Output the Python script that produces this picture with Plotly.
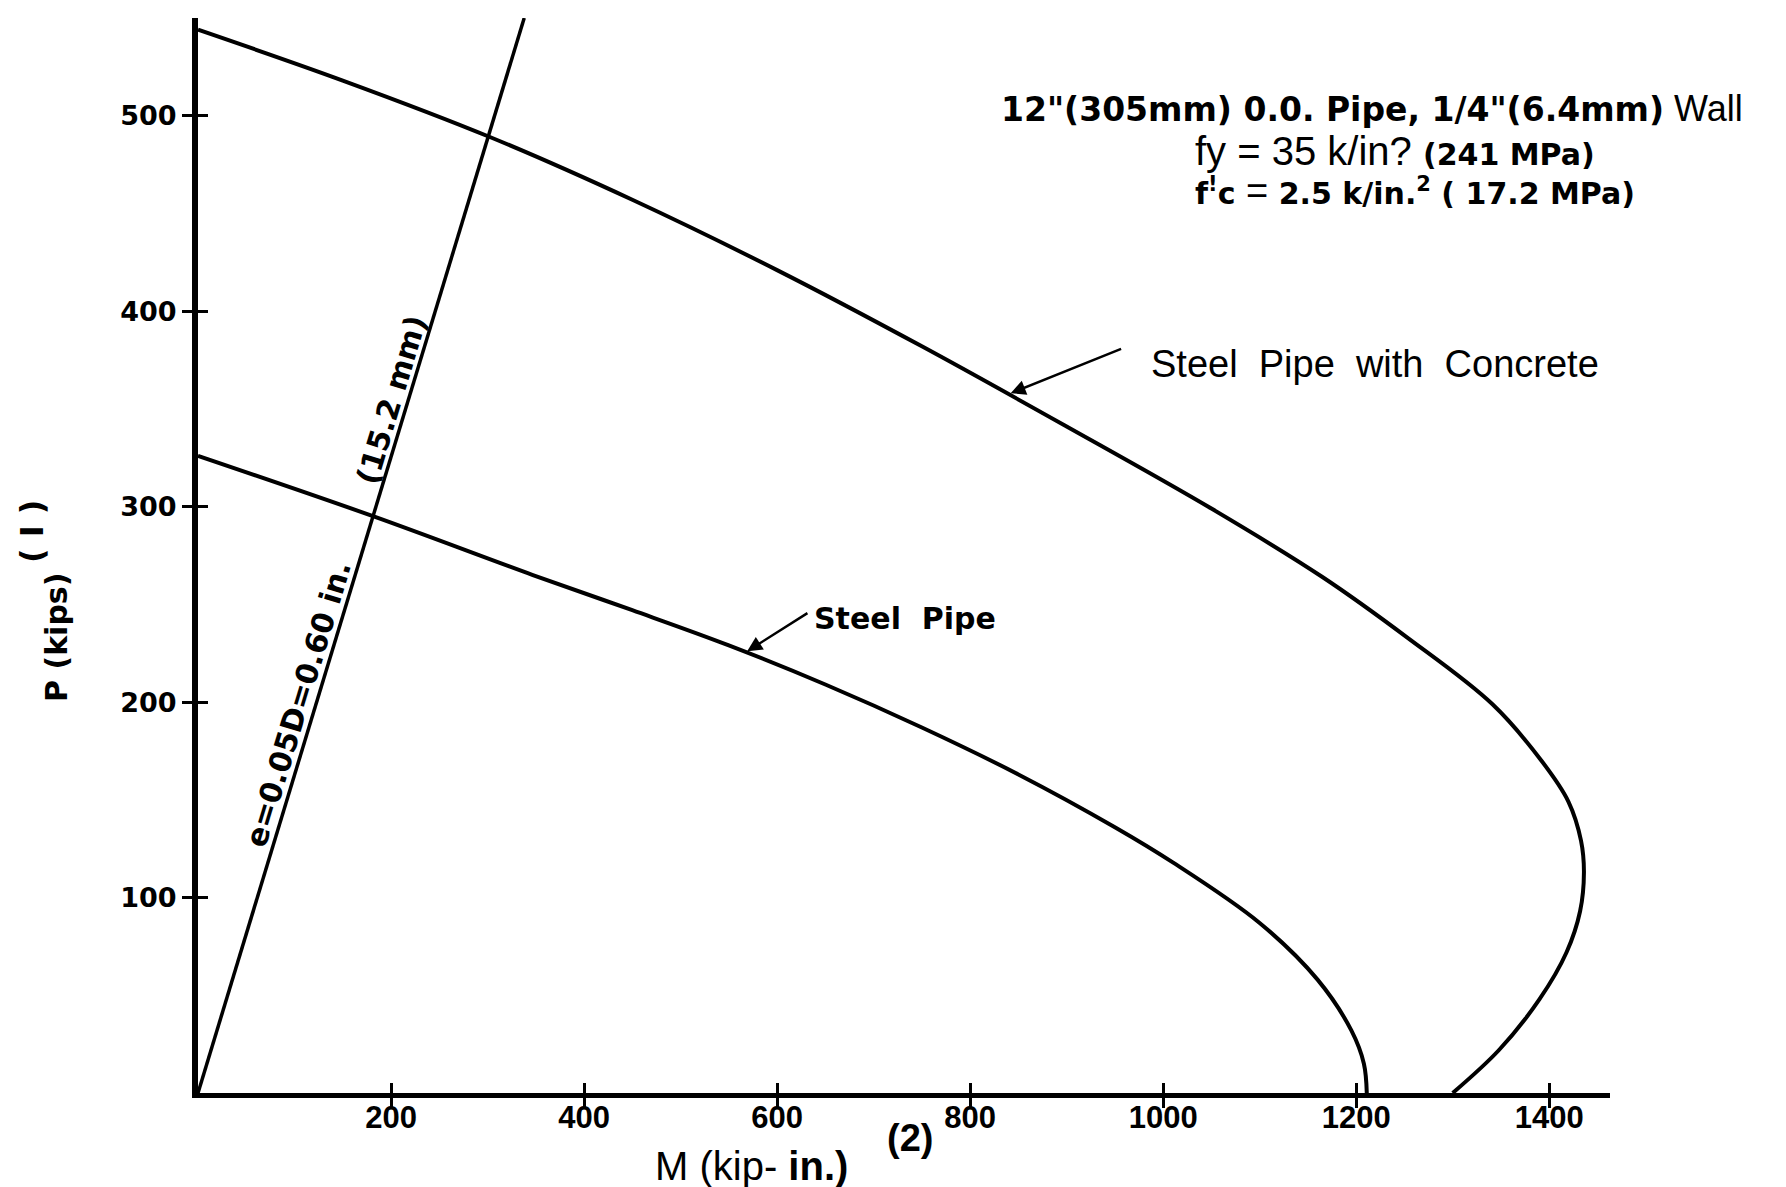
import plotly.graph_objects as go

# ---------------- data ----------------
moment_concrete = [0, 150, 303, 450, 600, 750, 900, 1050, 1165, 1253, 1341, 1392,
                   1420, 1433, 1436, 1432, 1418, 1390, 1348, 1300]
load_concrete = [544, 518, 489, 457, 421, 382, 341, 299, 264, 233, 199, 170,
                 149, 129, 113, 93, 72, 48, 22, 0]

moment_steel = [0, 182, 347, 450, 550, 650, 750, 850, 950, 1010, 1100, 1160, 1195, 1208, 1211]
load_steel = [326, 295, 265, 247, 229, 209, 187, 163, 136, 118, 87, 58, 32, 15, 0]

ecc_moment = [0, 338]
ecc_load = [0, 550]

x_ticks = [200, 400, 600, 800, 1000, 1200, 1400]
y_ticks = [100, 200, 300, 400, 500]
x_range = [0, 1463]
y_range = [0, 550]

# leader arrows: (tip on curve, tail near label) in data units
lead_concrete = dict(tip=(842, 358), tail=(958, 381))
lead_steel = dict(tip=(569, 226), tail=(633, 246))

# ---------------- layout geometry ----------------
W, H = 1786, 1187
ML, MR, MT, MB = 190, 184, 10, 102
PW, PH = W - ML - MR, H - MT - MB


def px(xp):
    return (xp - ML) / PW


def py(yp):
    return (H - MB - yp) / PH


WIDE = "DejaVu Sans"
SANS = "Liberation Sans, Arial"

fig = go.Figure()
fig.add_trace(go.Scatter(x=moment_concrete, y=load_concrete, mode="lines",
                         line=dict(color="black", width=4, shape="spline", smoothing=1.0),
                         showlegend=False, hoverinfo="skip"))
fig.add_trace(go.Scatter(x=moment_steel, y=load_steel, mode="lines",
                         line=dict(color="black", width=4, shape="spline", smoothing=1.0),
                         showlegend=False, hoverinfo="skip"))
fig.add_trace(go.Scatter(x=ecc_moment, y=ecc_load, mode="lines",
                         line=dict(color="black", width=3.5),
                         showlegend=False, hoverinfo="skip", cliponaxis=False))
# invisible trace on overlay axes so their inner tick marks are drawn
fig.add_trace(go.Scatter(x=[x_range[0]], y=[y_range[0]], mode="markers", xaxis="x2", yaxis="y2",
                         marker=dict(opacity=0), showlegend=False, hoverinfo="skip"))

ann = []
B = "<span style=\"font-family:'DejaVu Sans';font-weight:bold\">"
E = "</span>"


def NS(size):
    return ("<span style=\"font-family:'Liberation Sans Narrow','Liberation Sans';"
            "font-weight:normal;font-size:%dpx\">" % size)


# title block
ann.append(dict(xref="paper", yref="paper", x=px(991), y=py(101), xanchor="left", yanchor="middle",
                text=B + "12\"(305mm) 0.0. Pipe, 1/4\"(6.4mm)" + E + NS(36) + " Wall" + E,
                font=dict(size=33, color="black"), showarrow=False))
ann.append(dict(xref="paper", yref="paper", x=px(1185), y=py(143), xanchor="left", yanchor="middle",
                text=NS(40) + "fy = 35 k/in? " + E + B + "(241 MPa)" + E,
                font=dict(size=30, color="black"), showarrow=False))
ann.append(dict(xref="paper", yref="paper", x=px(1185), y=py(183), xanchor="left", yanchor="middle",
                text=B + "f<sup>!</sup>c" + E + NS(38) + " = " + E
                + B + "2.5 k/in.<sup>2</sup> ( 17.2 MPa)" + E,
                font=dict(size=30, color="black"), showarrow=False))

# curve labels
ann.append(dict(xref="paper", yref="paper", x=px(1141), y=py(356), xanchor="left", yanchor="middle",
                text="Steel\u00a0 Pipe\u00a0 with\u00a0 Concrete",
                font=dict(size=38, color="black", family=SANS), showarrow=False))
ann.append(dict(xref="paper", yref="paper", x=px(804), y=py(610), xanchor="left", yanchor="middle",
                text="Steel\u00a0 Pipe",
                font=dict(size=30, color="black", family=WIDE, weight="bold"), showarrow=False))

for ld in (lead_concrete, lead_steel):
    ann.append(dict(xref="x", yref="y", axref="x", ayref="y",
                    x=ld["tip"][0], y=ld["tip"][1], ax=ld["tail"][0], ay=ld["tail"][1],
                    text="", showarrow=True, arrowhead=2, arrowsize=1.2, arrowwidth=2.5,
                    arrowcolor="black"))

# eccentricity line labels
slope_ang = -73.1
ann.append(dict(xref="x", yref="y", x=0.615 * 196.5, y=196.5, xshift=-16, yshift=5,
                text="e=0.05D=0.60 in.", textangle=slope_ang,
                font=dict(size=30, color="black", family=WIDE, weight="bold"), showarrow=False))
ann.append(dict(xref="x", yref="y", x=0.615 * 352, y=352, xshift=-16, yshift=5,
                text="(15.2 mm)", textangle=slope_ang,
                font=dict(size=30, color="black", family=WIDE, weight="bold"), showarrow=False))

# axis titles
ann.append(dict(xref="paper", yref="paper", x=px(48), y=py(630), xanchor="center", yanchor="middle",
                text="P (kips)", textangle=-90,
                font=dict(size=30, color="black", family=WIDE, weight="bold"), showarrow=False))
ann.append(dict(xref="paper", yref="paper", x=px(24), y=py(524), xanchor="center", yanchor="middle",
                text="( I )", textangle=-90,
                font=dict(size=32, color="black", family=WIDE, weight="bold"), showarrow=False))
ann.append(dict(xref="paper", yref="paper", x=px(645), y=py(1158), xanchor="left", yanchor="middle",
                text="M (kip- <b>in.)</b>",
                font=dict(size=40, color="black", family=SANS), showarrow=False))
ann.append(dict(xref="paper", yref="paper", x=px(902), y=py(1130), xanchor="center", yanchor="middle",
                text="<b>(2)</b>",
                font=dict(size=38, color="black", family=SANS), showarrow=False))

tick_common = dict(showgrid=False, zeroline=False, tickcolor="black", tickwidth=3, ticklen=10)
fig.update_layout(
    width=W, height=H,
    margin=dict(l=ML, r=MR, t=MT, b=MB, pad=0),
    paper_bgcolor="white", plot_bgcolor="white",
    annotations=ann,
    xaxis=dict(range=x_range, showline=True, linecolor="black", linewidth=5, ticks="outside",
               tickvals=x_ticks, ticktext=[str(v) for v in x_ticks], ticklabelstandoff=-17,
               tickfont=dict(family=SANS, size=31, color="black", weight="bold"), **tick_common),
    yaxis=dict(range=y_range, showline=True, linecolor="black", linewidth=6, ticks="outside",
               tickvals=y_ticks, ticktext=[str(v) for v in y_ticks],
               tickfont=dict(family=WIDE, size=27, color="black", weight="bold"), **tick_common),
    xaxis2=dict(range=x_range, overlaying="x", anchor="y2", side="bottom", showline=False,
                ticks="inside", tickvals=x_ticks, showticklabels=False, **tick_common),
    yaxis2=dict(range=y_range, overlaying="y", anchor="x2", side="left", showline=False,
                ticks="inside", tickvals=y_ticks, showticklabels=False, **tick_common),
)

fig.write_html("out.html")
